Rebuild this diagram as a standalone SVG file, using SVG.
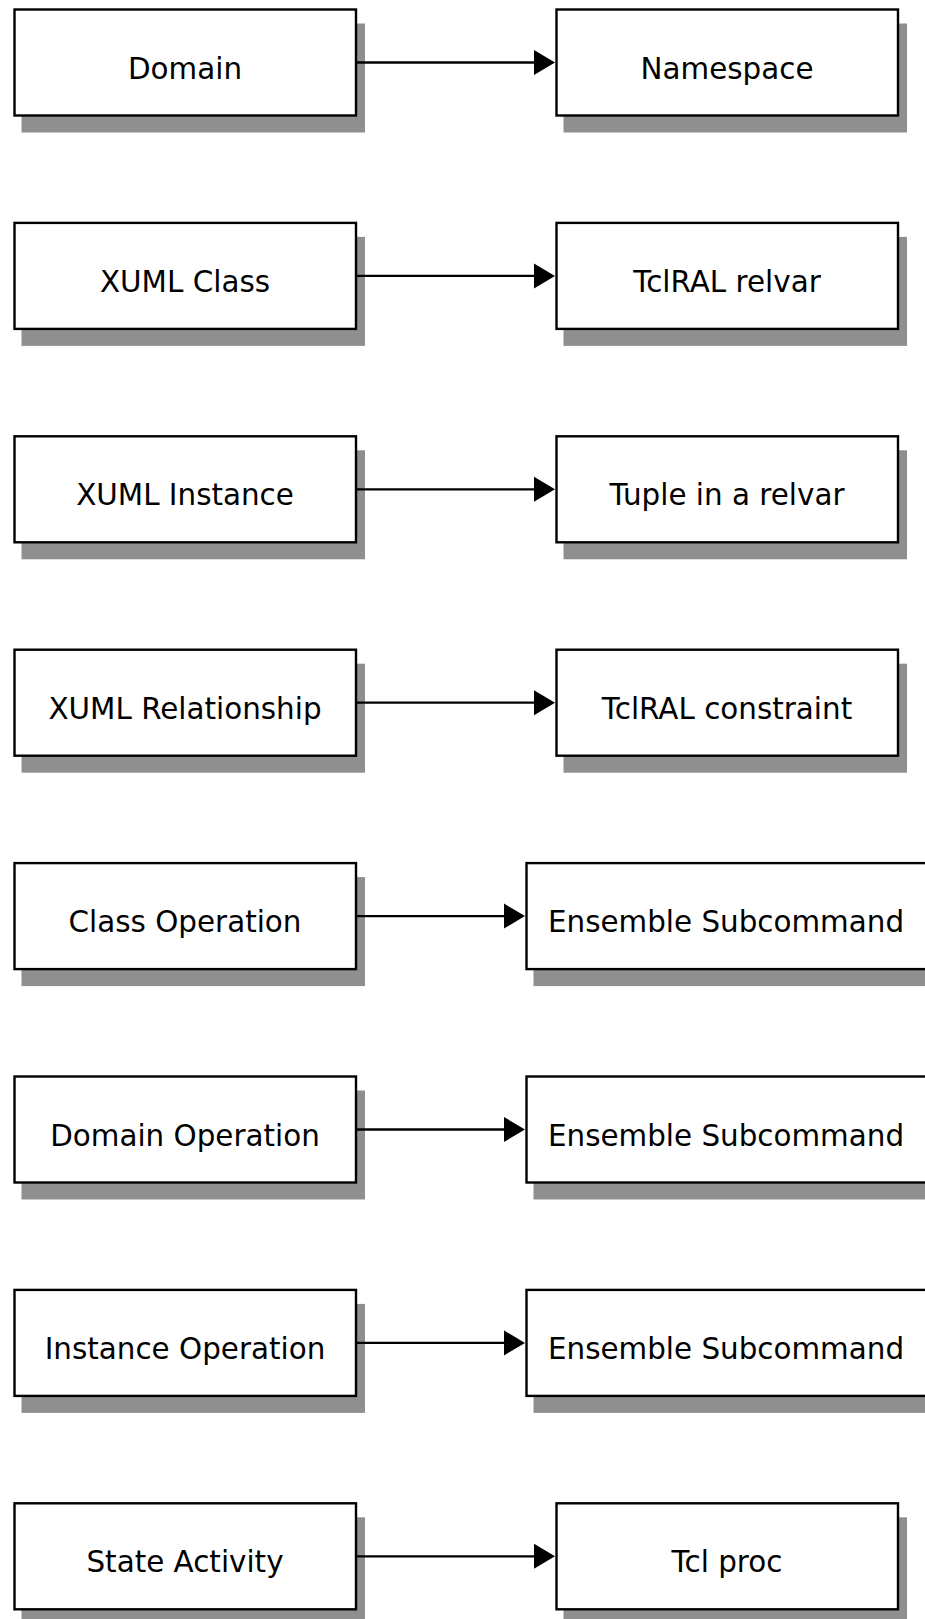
<svg xmlns="http://www.w3.org/2000/svg" width="925" height="1619" viewBox="0 0 925 1619">
<style>
.shadow{fill:#8f8f8f;stroke:none}
.box{fill:#fff;stroke:#000;stroke-width:2.4}
.lbl{font-family:"DejaVu Sans",sans-serif;font-size:29.4px;fill:#000;text-anchor:middle}
.conn line{stroke:#000;stroke-width:2.3}
.conn polygon{fill:#000;stroke:none}
</style>
<rect width="925" height="1619" fill="#fff"/>
<g id="n-domain"><rect class="shadow" x="21.5" y="23.5" width="343.5" height="109"/><rect class="box" x="14.5" y="9.5" width="341.5" height="106"/><text class="lbl" x="185" y="78.5">Domain</text></g>
<g id="n-namespace"><rect class="shadow" x="563.5" y="23.5" width="343.5" height="109"/><rect class="box" x="556.5" y="9.5" width="341.5" height="106"/><text class="lbl" x="727" y="78.5">Namespace</text></g>
<g id="n-xumlclass"><rect class="shadow" x="21.5" y="236.9" width="343.5" height="109"/><rect class="box" x="14.5" y="222.9" width="341.5" height="106"/><text class="lbl" x="185" y="291.9">XUML Class</text></g>
<g id="n-relvar"><rect class="shadow" x="563.5" y="236.9" width="343.5" height="109"/><rect class="box" x="556.5" y="222.9" width="341.5" height="106"/><text class="lbl" x="727" y="291.9">TclRAL relvar</text></g>
<g id="n-xumlinstance"><rect class="shadow" x="21.5" y="450.3" width="343.5" height="109"/><rect class="box" x="14.5" y="436.3" width="341.5" height="106"/><text class="lbl" x="185" y="505.3">XUML Instance</text></g>
<g id="n-tuple"><rect class="shadow" x="563.5" y="450.3" width="343.5" height="109"/><rect class="box" x="556.5" y="436.3" width="341.5" height="106"/><text class="lbl" x="727" y="505.3">Tuple in a relvar</text></g>
<g id="n-xumlrel"><rect class="shadow" x="21.5" y="663.7" width="343.5" height="109"/><rect class="box" x="14.5" y="649.7" width="341.5" height="106"/><text class="lbl" x="185" y="718.7">XUML Relationship</text></g>
<g id="n-constraint"><rect class="shadow" x="563.5" y="663.7" width="343.5" height="109"/><rect class="box" x="556.5" y="649.7" width="341.5" height="106"/><text class="lbl" x="727" y="718.7">TclRAL constraint</text></g>
<g id="n-classop"><rect class="shadow" x="21.5" y="877.1" width="343.5" height="109"/><rect class="box" x="14.5" y="863.1" width="341.5" height="106"/><text class="lbl" x="185" y="932.1">Class Operation</text></g>
<g id="n-ens1"><rect class="shadow" x="533.5" y="877.1" width="400" height="109"/><rect class="box" x="526.5" y="863.1" width="400" height="106"/><text class="lbl" x="726" y="932.1">Ensemble Subcommand</text></g>
<g id="n-domainop"><rect class="shadow" x="21.5" y="1090.5" width="343.5" height="109"/><rect class="box" x="14.5" y="1076.5" width="341.5" height="106"/><text class="lbl" x="185" y="1145.5">Domain Operation</text></g>
<g id="n-ens2"><rect class="shadow" x="533.5" y="1090.5" width="400" height="109"/><rect class="box" x="526.5" y="1076.5" width="400" height="106"/><text class="lbl" x="726" y="1145.5">Ensemble Subcommand</text></g>
<g id="n-instop"><rect class="shadow" x="21.5" y="1303.9" width="343.5" height="109"/><rect class="box" x="14.5" y="1289.9" width="341.5" height="106"/><text class="lbl" x="185" y="1358.9">Instance Operation</text></g>
<g id="n-ens3"><rect class="shadow" x="533.5" y="1303.9" width="400" height="109"/><rect class="box" x="526.5" y="1289.9" width="400" height="106"/><text class="lbl" x="726" y="1358.9">Ensemble Subcommand</text></g>
<g id="n-stateact"><rect class="shadow" x="21.5" y="1517.3" width="343.5" height="109"/><rect class="box" x="14.5" y="1503.3" width="341.5" height="106"/><text class="lbl" x="185" y="1572.3">State Activity</text></g>
<g id="n-tclproc"><rect class="shadow" x="563.5" y="1517.3" width="343.5" height="109"/><rect class="box" x="556.5" y="1503.3" width="341.5" height="106"/><text class="lbl" x="727" y="1572.3">Tcl proc</text></g>
<g id="connectors" class="conn">
<line x1="356" y1="62.5" x2="535" y2="62.5"/><polygon points="534,50 555,62.5 534,75"/>
<line x1="356" y1="275.9" x2="535" y2="275.9"/><polygon points="534,263.4 555,275.9 534,288.4"/>
<line x1="356" y1="489.3" x2="535" y2="489.3"/><polygon points="534,476.8 555,489.3 534,501.8"/>
<line x1="356" y1="702.7" x2="535" y2="702.7"/><polygon points="534,690.2 555,702.7 534,715.2"/>
<line x1="356" y1="916.1" x2="505" y2="916.1"/><polygon points="504,903.6 525,916.1 504,928.6"/>
<line x1="356" y1="1129.5" x2="505" y2="1129.5"/><polygon points="504,1117 525,1129.5 504,1142"/>
<line x1="356" y1="1342.9" x2="505" y2="1342.9"/><polygon points="504,1330.4 525,1342.9 504,1355.4"/>
<line x1="356" y1="1556.3" x2="535" y2="1556.3"/><polygon points="534,1543.8 555,1556.3 534,1568.8"/>
</g>
</svg>
